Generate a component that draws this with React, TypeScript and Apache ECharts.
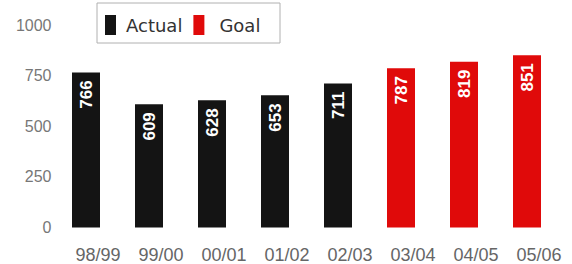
import React, { useEffect, useRef } from "react";
import * as echarts from "echarts";

const categories = ["98/99", "99/00", "00/01", "01/02", "02/03", "03/04", "04/05", "05/06"];
const actualValues = [766, 609, 628, 653, 711, null, null, null];
const goalValues = [null, null, null, null, null, 787, 819, 851];
const yTicks = [0, 250, 500, 750, 1000];

export default function App() {
  const ref = useRef<HTMLDivElement>(null);
  useEffect(() => {
    if (!ref.current) return;
    const chart = echarts.init(ref.current, null, { renderer: "svg" });
    const label = {
      show: true,
      position: "insideTop" as const,
      rotate: 90,
      align: "right" as const,
      verticalAlign: "middle" as const,
      distance: 8,
      color: "#ffffff",
      fontFamily: "Liberation Sans, Arial, sans-serif",
      fontWeight: "bold" as const,
      fontSize: 17,
    };
    chart.setOption({
      animation: false,
      backgroundColor: "#ffffff",
      grid: { left: 54.5, right: 13.5, top: 25, bottom: 36.5, containLabel: false },
      legend: {
        left: 105,
        top: 15,
        itemWidth: 11,
        itemHeight: 20,
        itemGap: 11,
        icon: "rect",
        padding: 0,
        textStyle: {
          fontFamily: "DejaVu Sans, Verdana, sans-serif",
          fontSize: 18,
          color: "#333333",
          padding: [0, 0, 0, 5],
        },
        data: [
          { name: "Actual" },
          { name: "Goal", textStyle: { padding: [0, 0, 0, 10] } },
        ],
      },
      graphic: [
        {
          type: "rect",
          shape: { x: 97, y: 3, width: 183, height: 40 },
          style: { fill: "none", stroke: "#b0b0b0", lineWidth: 1 },
          z: 100,
        },
      ],
      xAxis: {
        type: "category",
        data: categories,
        axisLine: { show: false },
        axisTick: { show: false },
        axisLabel: {
          margin: 18,
          fontSize: 18,
          color: "#666666",
          padding: [0, 0, 0, 24],
          fontFamily: "Liberation Sans, Arial, sans-serif",
        },
      },
      yAxis: {
        type: "value",
        min: yTicks[0],
        max: yTicks[yTicks.length - 1],
        interval: 250,
        axisLine: { show: false },
        axisTick: { show: false },
        splitLine: { show: false },
        axisLabel: {
          margin: 3,
          fontSize: 16,
          color: "#777777",
          formatter: (v: number) => String(v),
          fontFamily: "Liberation Sans, Arial, sans-serif",
        },
      },
      series: [
        {
          name: "Actual",
          type: "bar",
          data: actualValues,
          barWidth: 28,
          barGap: "-100%",
          itemStyle: { color: "#141414" },
          label,
        },
        {
          name: "Goal",
          type: "bar",
          data: goalValues,
          barWidth: 28,
          itemStyle: { color: "#e00a0a" },
          label,
        },
      ],
    });
    return () => chart.dispose();
  }, []);
  return (
    <div
      ref={ref}
      style={{ position: "fixed", left: 0, top: 0, width: 572, height: 264 }}
    />
  );
}
